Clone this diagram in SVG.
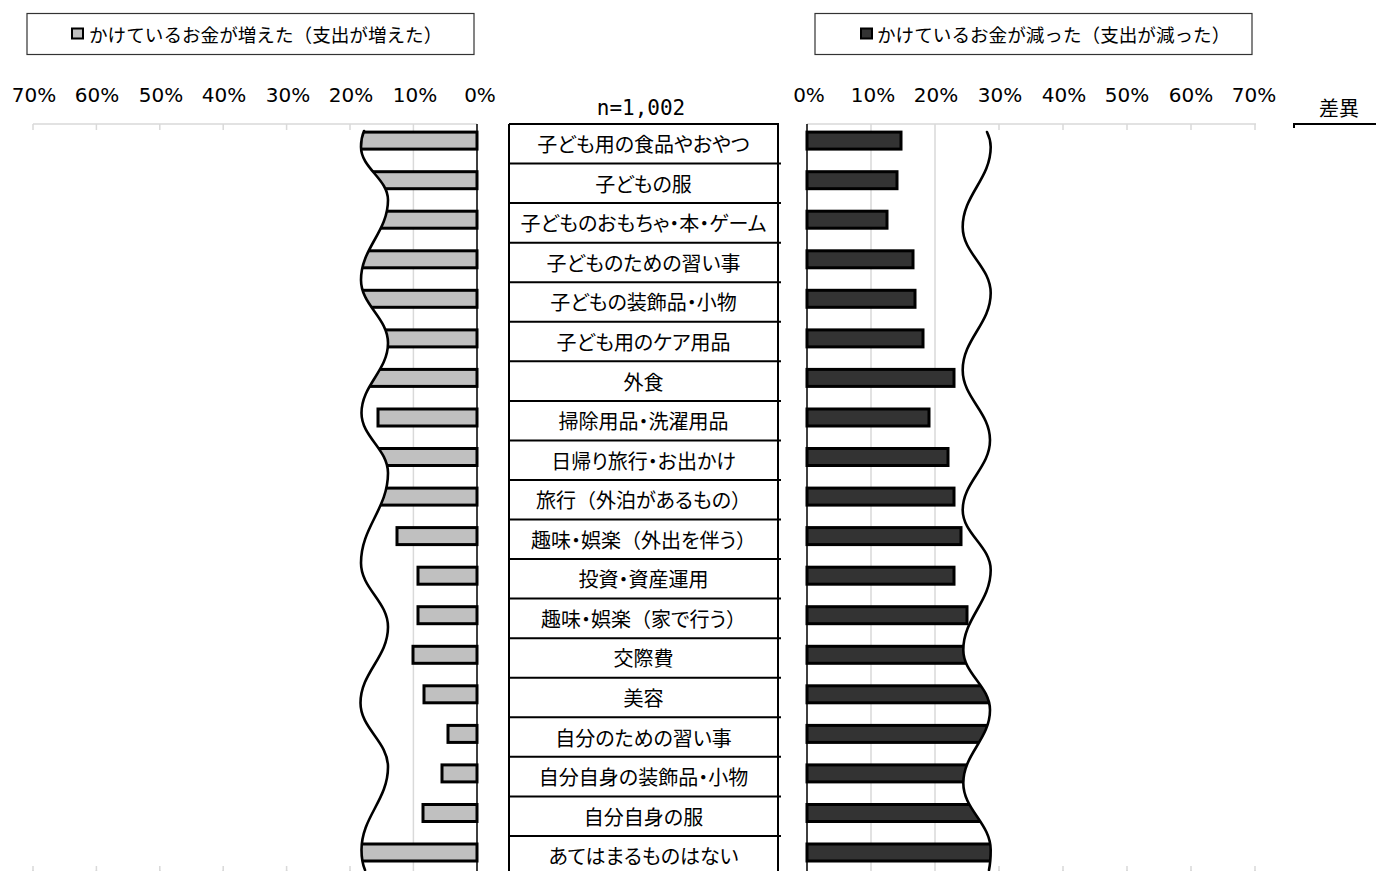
<svg xmlns="http://www.w3.org/2000/svg" width="1376" height="871" viewBox="0 0 1376 871">
<style>
.jp{font-family:"Noto Sans CJK JP","Noto Sans CJK SC",sans-serif;font-size:18px;fill:#000}
.cat{font-family:"Noto Sans CJK JP","Noto Sans CJK SC",sans-serif;font-size:20px;fill:#000;text-anchor:middle;font-feature-settings:"palt" 1}
.fw{font-feature-settings:normal}
.ax{font-family:"DejaVu Sans","Liberation Sans",sans-serif;font-size:20px;fill:#000;text-anchor:middle}
.grid{stroke:#d9d9d9;stroke-width:1.5;fill:none}
.axis{stroke:#000;stroke-width:1.5;fill:none}
.barL{fill:#c0c0c0;stroke:#000;stroke-width:3}
.barR{fill:#333333;stroke:#000;stroke-width:3}
.box{stroke:#000;stroke-width:2;fill:none}
.wave{fill:none;stroke:#000;stroke-width:2.6;stroke-linecap:round}
.cover{fill:#fff;stroke:none}
.leg{fill:#fff;stroke:#333;stroke-width:1.2}
</style>
<rect width="1376" height="871" fill="#fff"/>

<g id="legend-increase">
<rect class="leg" x="27" y="13.5" width="447" height="41"/>
<rect x="72" y="28.5" width="11" height="10" fill="#c0c0c0" stroke="#000" stroke-width="2"/>
<text class="jp" x="89" y="41.5" style="font-size:18.6px">かけているお金が増えた（支出が増えた）</text>
</g>
<g id="legend-decrease">
<rect class="leg" x="815" y="13.5" width="437" height="41"/>
<rect x="861" y="28.5" width="11" height="10" fill="#333" stroke="#000" stroke-width="2"/>
<text class="jp" x="877" y="41.5" style="font-size:18.6px">かけているお金が減った（支出が減った）</text>
</g>

<g id="axis-labels">
<text class="ax" x="34" y="102">70%</text>
<text class="ax" x="97" y="102">60%</text>
<text class="ax" x="161" y="102">50%</text>
<text class="ax" x="224" y="102">40%</text>
<text class="ax" x="288" y="102">30%</text>
<text class="ax" x="351" y="102">20%</text>
<text class="ax" x="415" y="102">10%</text>
<text class="ax" x="480" y="102">0%</text>
<text class="ax" x="809" y="102">0%</text>
<text class="ax" x="873" y="102">10%</text>
<text class="ax" x="936" y="102">20%</text>
<text class="ax" x="1000" y="102">30%</text>
<text class="ax" x="1064" y="102">40%</text>
<text class="ax" x="1127" y="102">50%</text>
<text class="ax" x="1191" y="102">60%</text>
<text class="ax" x="1254" y="102">70%</text>
<text x="641" y="115" text-anchor="middle" style="font-family:'DejaVu Sans Mono','Liberation Mono',monospace;font-size:21px">n=1,002</text>
</g>

<g id="diff-header">
<text class="jp" x="1339" y="116" text-anchor="middle" style="font-size:20px">差異</text>
<path d="M1294,128 V124 H1376" fill="none" stroke="#000" stroke-width="2"/>
</g>

<g id="gridlines">
<path class="grid" d="M33,124 H477 M807,124 H1256"/>
<path class="grid" d="M33,124 V871 M96.4,124 V871 M159.8,124 V871 M223.2,124 V871 M286.6,124 V871 M350,124 V871 M413.4,124 V871"/>
<path class="grid" d="M871,124 V871 M935,124 V871 M999,124 V871 M1063,124 V871 M1127,124 V871 M1191,124 V871 M1255,124 V871"/>
</g>

<g id="bars-increase">
<rect class="barL" x="350" y="132.1" width="127" height="17"/>
<rect class="barL" x="350" y="171.7" width="127" height="17"/>
<rect class="barL" x="350" y="211.2" width="127" height="17"/>
<rect class="barL" x="350" y="250.8" width="127" height="17"/>
<rect class="barL" x="350" y="290.3" width="127" height="17"/>
<rect class="barL" x="350" y="329.9" width="127" height="17"/>
<rect class="barL" x="350" y="369.4" width="127" height="17"/>
<rect class="barL" x="378" y="409" width="99" height="17"/>
<rect class="barL" x="350" y="448.5" width="127" height="17"/>
<rect class="barL" x="350" y="488.1" width="127" height="17"/>
<rect class="barL" x="397" y="527.6" width="80" height="17"/>
<rect class="barL" x="418" y="567.2" width="59" height="17"/>
<rect class="barL" x="418" y="606.7" width="59" height="17"/>
<rect class="barL" x="413" y="646.3" width="64" height="17"/>
<rect class="barL" x="424" y="685.8" width="53" height="17"/>
<rect class="barL" x="448" y="725.4" width="29" height="17"/>
<rect class="barL" x="442" y="764.9" width="35" height="17"/>
<rect class="barL" x="423" y="804.5" width="54" height="17"/>
<rect class="barL" x="350" y="844" width="127" height="17"/>
</g>

<g id="bars-decrease">
<rect class="barR" x="807" y="132.1" width="94" height="17"/>
<rect class="barR" x="807" y="171.7" width="90" height="17"/>
<rect class="barR" x="807" y="211.2" width="80" height="17"/>
<rect class="barR" x="807" y="250.8" width="106" height="17"/>
<rect class="barR" x="807" y="290.3" width="108" height="17"/>
<rect class="barR" x="807" y="329.9" width="116" height="17"/>
<rect class="barR" x="807" y="369.4" width="147" height="17"/>
<rect class="barR" x="807" y="409" width="122" height="17"/>
<rect class="barR" x="807" y="448.5" width="141" height="17"/>
<rect class="barR" x="807" y="488.1" width="147" height="17"/>
<rect class="barR" x="807" y="527.6" width="154" height="17"/>
<rect class="barR" x="807" y="567.2" width="147" height="17"/>
<rect class="barR" x="807" y="606.7" width="160" height="17"/>
<rect class="barR" x="807" y="646.3" width="195" height="17"/>
<rect class="barR" x="807" y="685.8" width="195" height="17"/>
<rect class="barR" x="807" y="725.4" width="195" height="17"/>
<rect class="barR" x="807" y="764.9" width="195" height="17"/>
<rect class="barR" x="807" y="804.5" width="195" height="17"/>
<rect class="barR" x="807" y="844" width="195" height="17"/>
</g>

<g id="axes">
<path class="axis" d="M477,124 V871 M807,124 V871"/>
</g>

<g id="break-left">
<path class="cover" d="M0,130 L364,130 C361.5,137 361,142 361,147 C361,168.2 388,178.8 388,200 C388,232 361,248 361,280 C361,305.2 388,317.8 388,343 C388,371 361.5,385 361.5,413 C361.5,437 388,449 388,473 C388,509 361,527 361,563 C361,588.6 388,601.4 388,627 C388,657.4 360.5,672.6 360.5,703 C360.5,728.6 388,741.4 388,767 C388,800.2 361.5,816.8 361.5,850 C361.5,858 362.5,864 365,870 L0,870 Z"/>
<path class="wave" d="M364,131 C361.5,137 361,142 361,147 C361,168.2 388,178.8 388,200 C388,232 361,248 361,280 C361,305.2 388,317.8 388,343 C388,371 361.5,385 361.5,413 C361.5,437 388,449 388,473 C388,509 361,527 361,563 C361,588.6 388,601.4 388,627 C388,657.4 360.5,672.6 360.5,703 C360.5,728.6 388,741.4 388,767 C388,800.2 361.5,816.8 361.5,850 C361.5,858 362.5,864 365,870"/>
</g>

<g id="break-right">
<path class="cover" d="M1300,130 L987,130 L987,132 C989.5,137 990.7,142 990.7,147 C990.7,179 962.7,195 962.7,227 C962.7,253.4 990.7,266.6 990.7,293 C990.7,323.8 962.7,339.2 962.7,370 C962.7,398 990,412 990,440 C990,468 962.7,482 962.7,510 C962.7,534 990.7,546 990.7,570 C990.7,602 963.3,618 963.3,650 C963.3,674 990,686 990,710 C990,739.2 963.3,753.8 963.3,783 C963.3,809.8 990.7,823.2 990.7,850 C990.7,858 990,865 989,870 L1300,870 Z"/>
<path class="wave" d="M987,132 C989.5,137 990.7,142 990.7,147 C990.7,179 962.7,195 962.7,227 C962.7,253.4 990.7,266.6 990.7,293 C990.7,323.8 962.7,339.2 962.7,370 C962.7,398 990,412 990,440 C990,468 962.7,482 962.7,510 C962.7,534 990.7,546 990.7,570 C990.7,602 963.3,618 963.3,650 C963.3,674 990,686 990,710 C990,739.2 963.3,753.8 963.3,783 C963.3,809.8 990.7,823.2 990.7,850 C990.7,858 990,865 989,870"/>
</g>

<g id="grid-stubs-bottom">
<path class="grid" d="M33,866 V871 M96.4,866 V871 M159.8,866 V871 M223.2,866 V871 M286.6,866 V871 M350,866 V871 M999,866 V871 M1063,866 V871 M1127,866 V871 M1191,866 V871 M1255,866 V871"/>
</g>

<g id="category-boxes">
<path class="box" d="M509,124 V871 M778,124 V871 M509,124 H779"/>
<path class="box" d="M509,163.6 H781 M509,203.1 H781 M509,242.7 H781 M509,282.2 H781 M509,321.8 H781 M509,361.3 H781 M509,400.9 H781 M509,440.4 H781 M509,480 H781 M509,519.5 H781 M509,559.1 H781 M509,598.6 H781 M509,638.2 H781 M509,677.7 H781 M509,717.3 H781 M509,756.8 H781 M509,796.4 H781 M509,835.9 H781"/>
</g>

<g id="category-labels" class="cat">
<text x="643.5" y="152.2">子ども用の食品やおやつ</text>
<text x="643.5" y="191.8">子どもの服</text>
<text x="643.5" y="231.3">子どものおもちゃ・本・ゲーム</text>
<text x="643.5" y="270.9">子どものための習い事</text>
<text x="643.5" y="310.4">子どもの装飾品・小物</text>
<text x="643.5" y="350">子ども用のケア用品</text>
<text x="643.5" y="389.5">外食</text>
<text x="643.5" y="429.1">掃除用品・洗濯用品</text>
<text x="643.5" y="468.6">日帰り旅行・お出かけ</text>
<text x="643.5" y="508.2">旅行<tspan class="fw">（</tspan>外泊があるもの<tspan class="fw">）</tspan></text>
<text x="643.5" y="547.7">趣味・娯楽<tspan class="fw">（</tspan>外出を伴う<tspan class="fw">）</tspan></text>
<text x="643.5" y="587.3">投資・資産運用</text>
<text x="643.5" y="626.8">趣味・娯楽<tspan class="fw">（</tspan>家で行う<tspan class="fw">）</tspan></text>
<text x="643.5" y="666.4">交際費</text>
<text x="643.5" y="705.9">美容</text>
<text x="643.5" y="745.5">自分のための習い事</text>
<text x="643.5" y="785">自分自身の装飾品・小物</text>
<text x="643.5" y="824.6">自分自身の服</text>
<text x="643.5" y="864.1">あてはまるものはない</text>
</g>
</svg>
